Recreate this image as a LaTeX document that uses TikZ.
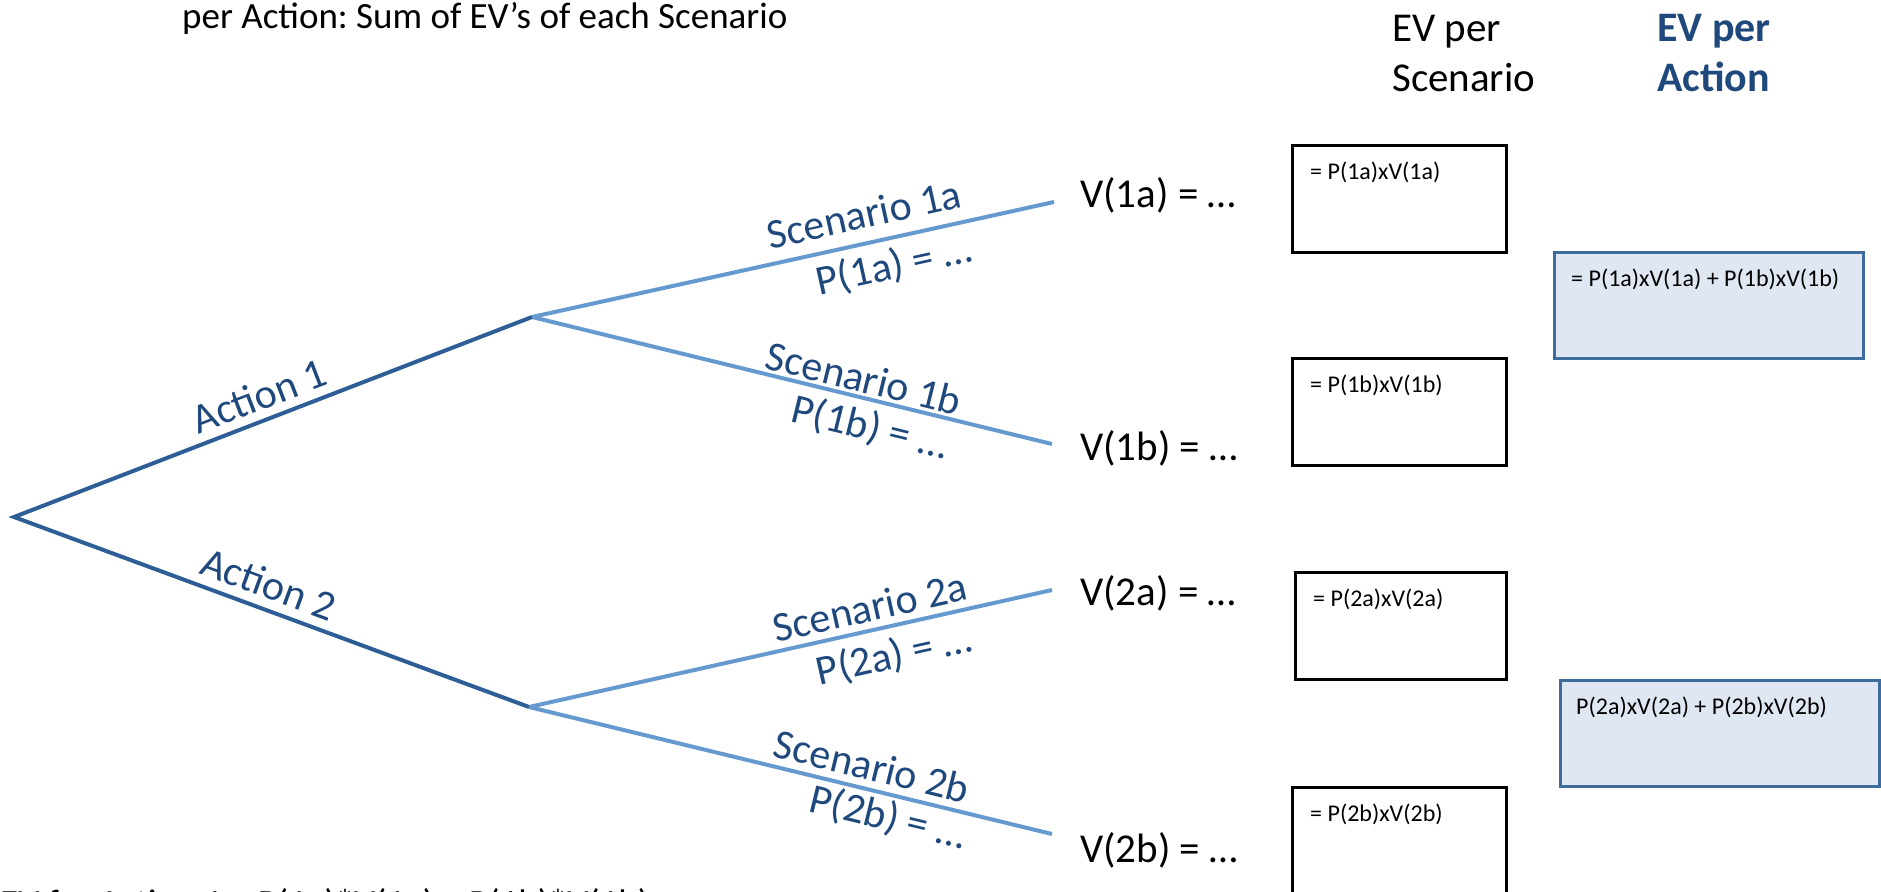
\documentclass[tikz,border=0pt]{standalone}
\usepackage{fontspec}
\setmainfont{Carlito}
\frenchspacing
\definecolor{actionblue}{RGB}{46,94,150}
\definecolor{scenblue}{RGB}{102,153,206}
\definecolor{navy}{RGB}{31,73,125}
\definecolor{evfill}{RGB}{223,231,242}
\definecolor{evborder}{RGB}{62,108,156}
\tikzset{
  actionline/.style={draw=actionblue, line width=4pt},
  scenline/.style={draw=scenblue, line width=4pt},
  branchlabel/.style={font=\fontsize{42}{50}\selectfont, text=navy, inner sep=0pt},
  valuelabel/.style={font=\fontsize{41}{49}\selectfont, anchor=base west, inner sep=0pt},
  header/.style={font=\fontsize{41}{49}\selectfont, anchor=base west, inner sep=0pt},
  boldheader/.style={font=\fontsize{42}{50}\selectfont\bfseries, text=navy, anchor=base west, inner sep=0pt},
  note/.style={font=\fontsize{37}{44}\selectfont, anchor=base west, inner sep=0pt},
  evbox/.style={draw=black, line width=2.5pt, anchor=north west, minimum width=214pt, minimum height=107pt, inner sep=0pt},
  actbox/.style={draw=evborder, fill=evfill, line width=2.5pt, anchor=north west, minimum height=106pt, inner sep=0pt},
  boxtext/.style={font=\fontsize{24}{29}\selectfont, anchor=base west, inner sep=0pt},
}
\begin{document}
\begin{tikzpicture}[x=1pt, y=-1pt]
\useasboundingbox (0,0) rectangle (1881,891);
\clip (0,0) rectangle (1881,891);

% notes at the top and bottom edges
\node[note] (topnote) at (182,29) {per Action: Sum of EV’s of each Scenario};
\node[note] (botnote) at (0,915) {EV for Action 1 = P(1a)*V(1a) + P(1b)*V(1b)};

% column headers
\node[header] (hscen1) at (1392,42) {EV per};
\node[header] (hscen2) at (1392,92) {Scenario};
\node[boldheader] (hact1) at (1657,42) {EV per};
\node[boldheader] (hact2) at (1657,92) {Action};

% tree points
\coordinate (root) at (14,517);
\coordinate (a1) at (532,317);
\coordinate (a2) at (529,707);
\coordinate (e1a) at (1054,202);
\coordinate (e1b) at (1052,444);
\coordinate (e2a) at (1052,590);
\coordinate (e2b) at (1052,834);

% branches
\draw[scenline] (a1) -- (e1a);
\draw[scenline] (a1) -- (e1b);
\draw[scenline] (a2) -- (e2a);
\draw[scenline] (a2) -- (e2b);
\draw[actionline, line join=miter] (a1) -- (root) -- (a2);

% branch labels
\node[branchlabel, rotate=21.1] (la1) at (259,396) {Action 1};
\node[branchlabel, rotate=-20.25] (la2) at (269,584) {Action 2};
\node[branchlabel, rotate=12.4] (ls1a) at (864,214) {Scenario 1a};
\node[branchlabel, rotate=12.4] (lp1a) at (894,266) {P(1a) = …};
\node[branchlabel, rotate=-13.75] (ls1b) at (864,378) {Scenario 1b};
\node[branchlabel, rotate=-13.75] (lp1b) at (870,428) {P(1b) = …};
\node[branchlabel, rotate=12.6] (ls2a) at (870,607) {Scenario 2a};
\node[branchlabel, rotate=12.6] (lp2a) at (894,656) {P(2a) = …};
\node[branchlabel, rotate=-13.7] (ls2b) at (872,766) {Scenario 2b};
\node[branchlabel, rotate=-13.7] (lp2b) at (888,818) {P(2b) = …};

% values at the leaves
\node[valuelabel] (v1a) at (1080,207) {V(1a) = …};
\node[valuelabel] (v1b) at (1080,460) {V(1b) = …};
\node[valuelabel] (v2a) at (1080,605) {V(2a) = …};
\node[valuelabel] (v2b) at (1080,862) {V(2b) = …};

% expected value per scenario
\node[evbox] (b1a) at (1291,144) {};
\node[evbox] (b1b) at (1291,357) {};
\node[evbox, minimum width=211pt] (b2a) at (1294,571) {};
\node[evbox] (b2b) at (1291,786) {};
\node[boxtext] at ([shift={(19,35)}]b1a.north west) {= P(1a)xV(1a)};
\node[boxtext] at ([shift={(19,35)}]b1b.north west) {= P(1b)xV(1b)};
\node[boxtext] at ([shift={(19,35)}]b2a.north west) {= P(2a)xV(2a)};
\node[boxtext] at ([shift={(19,35)}]b2b.north west) {= P(2b)xV(2b)};

% expected value per action
\node[actbox, minimum width=309pt] (ba1) at (1553,251) {};
\node[actbox, minimum width=319pt] (ba2) at (1559,679) {};
\node[boxtext] at ([shift={(18,35)}]ba1.north west) {= P(1a)xV(1a) + P(1b)xV(1b)};
\node[boxtext] at ([shift={(17,35)}]ba2.north west) {P(2a)xV(2a) + P(2b)xV(2b)};
\end{tikzpicture}
\end{document}
